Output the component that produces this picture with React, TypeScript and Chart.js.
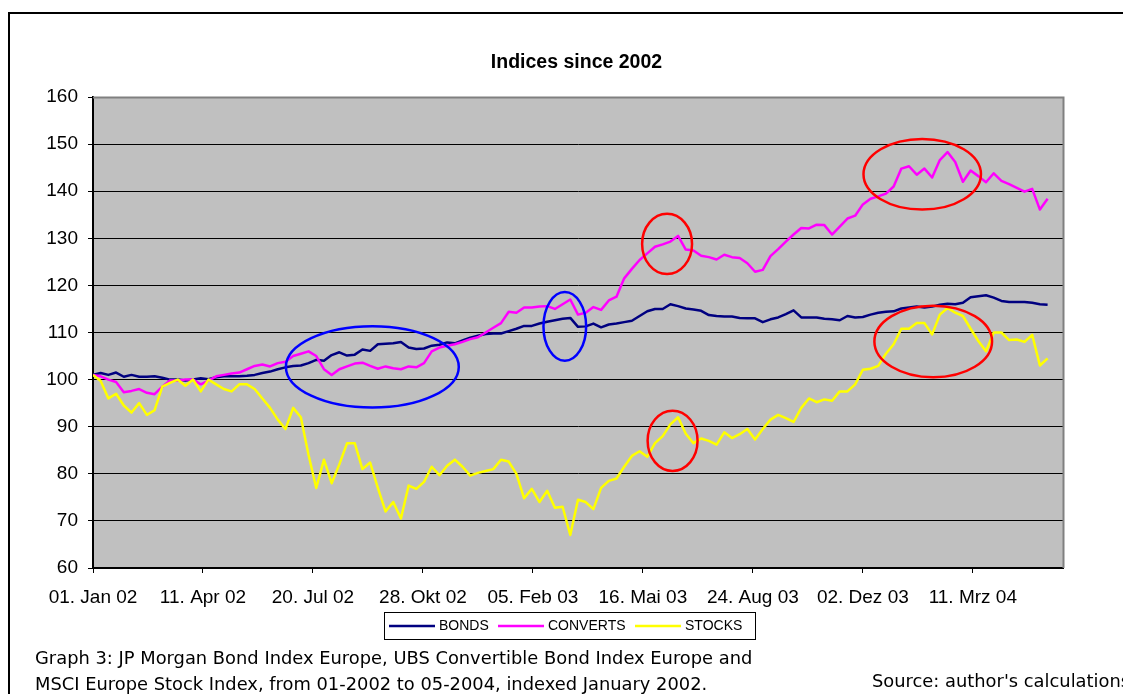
import React, { useEffect, useRef } from "react";
import { Chart, registerables } from "chart.js";

Chart.register(...registerables);

// ---------- data ----------
const STEP_DAYS = 7; // weekly observations, day 0 = 01. Jan 02
const X_MAX_DAYS = 882;
const TICK_DAYS = [0, 100, 200, 300, 400, 500, 600, 700, 800];
const TICK_LABELS = [
  "01. Jan 02",
  "11. Apr 02",
  "20. Jul 02",
  "28. Okt 02",
  "05. Feb 03",
  "16. Mai 03",
  "24. Aug 03",
  "02. Dez 03",
  "11. Mrz 04",
];
const Y_MIN = 60;
const Y_MAX = 160;
const Y_STEP = 10;

const BONDS = [
  101, 101.4, 101, 101.5, 100.6, 101, 100.6, 100.6, 100.7, 100.4,
  100, 100, 99.8, 100, 100.3, 100.1, 100.5, 100.7, 100.7, 100.7,
  100.8, 101, 101.4, 101.7, 102.2, 102.6, 102.9, 103, 103.5, 104.2,
  104, 105.2, 105.8, 105.1, 105.3, 106.4, 106.1, 107.5, 107.6, 107.7,
  108, 106.8, 106.5, 106.6, 107.2, 107.4, 107.9, 107.7, 108.3, 108.9,
  109.3, 109.7, 109.8, 109.8, 110.3, 110.8, 111.4, 111.4, 111.9, 112.3,
  112.6, 112.9, 113.1, 111.2, 111.3, 111.9, 111.1, 111.7, 111.9, 112.2,
  112.5, 113.5, 114.5, 115, 115, 116, 115.6, 115.1, 114.9, 114.6,
  113.7, 113.5, 113.4, 113.4, 113.1, 113, 113, 112.2, 112.8, 113.2,
  113.9, 114.7, 113.2, 113.2, 113.2, 112.9, 112.8, 112.6, 113.5, 113.2,
  113.3, 113.8, 114.2, 114.4, 114.5, 115.1, 115.3, 115.5, 115.3, 115.5,
  115.9, 116.1, 116, 116.3, 117.5, 117.7, 117.9, 117.4, 116.7, 116.5,
  116.5, 116.5, 116.3, 116, 115.9,
];

const CONVERTS = [
  101, 100.7, 100, 99.5, 97.3, 97.6, 98, 97.2, 96.9, 98.5,
  99.8, 99.8, 100, 100, 99, 99.8, 100.7, 101, 101.3, 101.5,
  102.2, 102.9, 103.2, 102.8, 103.5, 103.8, 105, 105.5, 106, 105,
  102.2, 101, 102.2, 102.8, 103.4, 103.6, 102.9, 102.3, 102.8, 102.4,
  102.2, 102.8, 102.6, 103.5, 106, 106.8, 107.2, 107.5, 108, 108.6,
  109, 110, 111, 112, 114.4, 114.2, 115.3, 115.3, 115.5, 115.6,
  115, 116, 117, 113.8, 114.2, 115.4, 114.8, 116.8, 117.6, 121.5,
  123.5, 125.4, 126.8, 128.2, 128.7, 129.3, 130.5, 127.6, 127.4, 126.3,
  126, 125.5, 126.5, 126, 125.8, 124.7, 122.9, 123.3, 126.2, 127.7,
  129.3, 130.8, 132.2, 132.1, 132.9, 132.8, 130.8, 132.5, 134.2, 134.8,
  137.2, 138.4, 138.9, 139.5, 141, 144.8, 145.3, 143.5, 144.8, 142.9,
  146.6, 148.3, 146.2, 142, 144.4, 143.2, 141.9, 143.8, 142.2, 141.5,
  140.7, 139.9, 140.5, 136.1, 138.4,
];

const STOCKS = [
  101, 99.7, 96, 97, 94.5, 93, 95, 92.5, 93.5, 98.5,
  99.3, 100, 98.7, 100, 97.5, 100, 99, 98, 97.5, 99,
  99, 98, 96, 94, 91.5, 89.5, 94, 92, 84, 77,
  83, 78, 82, 86.5, 86.5, 81, 82.4, 77, 72, 74,
  70.5, 77.5, 76.8, 78.3, 81.5, 79.7, 81.7, 83, 81.5, 79.6,
  80.2, 80.6, 81, 83, 82.6, 80, 74.8, 76.8, 74, 76.4,
  72.8, 73, 67, 74.5, 74, 72.5, 77, 78.5, 79, 81.5,
  83.8, 84.8, 83.6, 86.5, 88, 90.5, 92, 88.5, 86.5, 87.5,
  87, 86.2, 88.8, 87.6, 88.4, 89.5, 87.3, 89.5, 91.5, 92.5,
  91.8, 91, 94, 96, 95.2, 95.8, 95.5, 97.5, 97.5, 99,
  102.1, 102.3, 102.9, 105.5, 107.5, 110.8, 110.8, 112, 112, 109.6,
  113.8, 115.2, 114.2, 113.5, 110.8, 108.2, 106, 110, 110, 108.4,
  108.5, 108, 109.5, 103, 104.5,
];

const SERIES_NAMES = ["BONDS", "CONVERTS", "STOCKS"];
const SERIES_VALUES = [BONDS, CONVERTS, STOCKS];
const SERIES_COLORS = ["#000080", "#FF00FF", "#FFFF00"];

// highlight ellipses, in data units (day, index value)
const HIGHLIGHT_DAYS = [254, 429, 522, 527, 754, 764];
const HIGHLIGHT_VALUES = [102.7, 111.3, 128.8, 87.0, 143.6, 108.1];
const HIGHLIGHT_RADIUS_DAYS = [78.6, 19.4, 22.7, 22.7, 53.4, 53.5];
const HIGHLIGHT_RADIUS_VALUES = [8.64, 7.3, 6.4, 6.4, 7.5, 7.6];
const HIGHLIGHT_COLORS = ["#0000FF", "#0000FF", "#FF0000", "#FF0000", "#FF0000", "#FF0000"];

const TITLE = "Indices since 2002";
const CAPTION_LINES = [
  "Graph 3: JP Morgan Bond Index Europe, UBS Convertible Bond Index Europe and",
  "MSCI Europe Stock Index, from 01-2002 to 05-2004, indexed January 2002.",
];
const SOURCE = "Source: author's calculations";

const AXIS_FONT = '"Liberation Sans", Arial, Helvetica, sans-serif';
const CAPTION_FONT = '"DejaVu Sans", Verdana, sans-serif';

const decorPlugin = {
  id: "decor",
  beforeDraw(chart: any) {
    const { ctx, chartArea: a, width, height } = chart;
    ctx.save();
    ctx.fillStyle = "#FFFFFF";
    ctx.fillRect(0, 0, width, height);
    ctx.fillStyle = "#C0C0C0";
    ctx.fillRect(a.left, a.top, a.right - a.left, a.bottom - a.top);
    ctx.restore();
  },
  afterDatasetsDraw(chart: any) {
    const { ctx } = chart;
    const xs = chart.scales.x;
    const ys = chart.scales.y;
    ctx.save();
    ctx.lineWidth = 2.5;
    HIGHLIGHT_DAYS.forEach((d, i) => {
      const cx = xs.getPixelForValue(d);
      const cy = ys.getPixelForValue(HIGHLIGHT_VALUES[i]);
      const rx = Math.abs(xs.getPixelForValue(d + HIGHLIGHT_RADIUS_DAYS[i]) - cx);
      const ry = Math.abs(ys.getPixelForValue(HIGHLIGHT_VALUES[i] + HIGHLIGHT_RADIUS_VALUES[i]) - cy);
      ctx.strokeStyle = HIGHLIGHT_COLORS[i];
      ctx.beginPath();
      ctx.ellipse(cx, cy, rx, ry, 0, 0, Math.PI * 2);
      ctx.stroke();
    });
    ctx.restore();
  },
  afterDraw(chart: any) {
    const { ctx, chartArea: a, width, height } = chart;
    ctx.save();

    // plot area top/right border (grey)
    ctx.strokeStyle = "#808080";
    ctx.lineWidth = 2;
    ctx.beginPath();
    ctx.moveTo(a.left, a.top + 0.5);
    ctx.lineTo(a.right + 0.5, a.top + 0.5);
    ctx.lineTo(a.right + 0.5, a.bottom);
    ctx.stroke();

    // outer frame
    ctx.strokeStyle = "#000000";
    ctx.lineWidth = 2;
    ctx.beginPath();
    ctx.moveTo(9, height);
    ctx.lineTo(9, 13);
    ctx.lineTo(width, 13);
    ctx.stroke();

    // title
    ctx.fillStyle = "#000000";
    ctx.font = `bold 19.5px ${AXIS_FONT}`;
    ctx.textAlign = "center";
    ctx.textBaseline = "middle";
    ctx.fillText(TITLE, (a.left + a.right) / 2 - 1.5, 63);

    // legend
    const lgTop = 612.5;
    const lgLeft = 384.5;
    const lgW = 371;
    const lgH = 27;
    ctx.lineWidth = 1;
    ctx.strokeStyle = "#000000";
    ctx.strokeRect(lgLeft, lgTop, lgW, lgH);
    const lineStarts = [389, 498, 635];
    const lineLen = 46;
    const cyL = lgTop + lgH / 2;
    ctx.font = `14px ${AXIS_FONT}`;
    ctx.textAlign = "left";
    ctx.textBaseline = "middle";
    SERIES_NAMES.forEach((name, i) => {
      ctx.strokeStyle = SERIES_COLORS[i];
      ctx.lineWidth = 2.5;
      ctx.beginPath();
      ctx.moveTo(lineStarts[i], cyL);
      ctx.lineTo(lineStarts[i] + lineLen, cyL);
      ctx.stroke();
      ctx.fillStyle = "#000000";
      ctx.fillText(name, lineStarts[i] + lineLen + 4, cyL + 0.5);
    });

    // caption, fitted to the measured width of the first line
    ctx.font = `18px ${CAPTION_FONT}`;
    const w18 = ctx.measureText(CAPTION_LINES[0]).width;
    const size = (18 * 718) / w18;
    ctx.font = `${size.toFixed(2)}px ${CAPTION_FONT}`;
    ctx.textBaseline = "alphabetic";
    ctx.textAlign = "left";
    ctx.fillStyle = "#000000";
    ctx.fillText(CAPTION_LINES[0], 35, 664);
    ctx.fillText(CAPTION_LINES[1], 35, 690);
    ctx.fillText(SOURCE, 872, 687);

    ctx.restore();
  },
};

export default function App() {
  const canvasRef = useRef<HTMLCanvasElement | null>(null);

  useEffect(() => {
    const canvas = canvasRef.current;
    if (!canvas) return;
    const datasets = SERIES_NAMES.map((name, i) => ({
      label: name,
      data: SERIES_VALUES[i].map((v, k) => ({ x: k * STEP_DAYS, y: v })),
      borderColor: SERIES_COLORS[i],
      backgroundColor: SERIES_COLORS[i],
      borderWidth: 2.5,
      pointRadius: 0,
      tension: 0,
      fill: false,
      borderJoinStyle: "round" as const,
      order: SERIES_NAMES.length - i,
    }));

    const chart = new Chart(canvas, {
      type: "line",
      data: { datasets },
      options: {
        animation: false,
        responsive: false,
        devicePixelRatio: 1,
        layout: { padding: { left: 0, top: 97, right: 60, bottom: 0 } },
        plugins: {
          legend: { display: false },
          title: { display: false },
          tooltip: { enabled: false },
        },
        scales: {
          x: {
            type: "linear",
            min: 0,
            max: X_MAX_DAYS,
            afterBuildTicks: (scale: any) => {
              scale.ticks = TICK_DAYS.map((v) => ({ value: v }));
            },
            afterFit: (scale: any) => {
              scale.height = 126;
            },
            grid: {
              drawOnChartArea: false,
              drawTicks: true,
              tickLength: 5,
              color: "#000000",
              tickColor: "#000000",
            },
            border: { display: true, color: "#000000", width: 2 },
            ticks: {
              autoSkip: false,
              maxRotation: 0,
              minRotation: 0,
              padding: 13,
              color: "#000000",
              font: { family: AXIS_FONT, size: 19 },
              callback: (value: any) => {
                const idx = TICK_DAYS.indexOf(Number(value));
                return idx >= 0 ? TICK_LABELS[idx] : "";
              },
            },
          },
          y: {
            min: Y_MIN,
            max: Y_MAX,
            afterFit: (scale: any) => {
              scale.width = 93;
            },
            grid: {
              drawTicks: true,
              tickLength: 5,
              color: (c: any) => (c.tick && c.tick.value === Y_MAX ? "#808080" : "#000000"),
              tickColor: "#000000",
              lineWidth: 1,
            },
            border: { display: true, color: "#000000", width: 2 },
            ticks: {
              stepSize: Y_STEP,
              padding: 10,
              color: "#000000",
              font: { family: AXIS_FONT, size: 19 },
            },
          },
        },
      },
      plugins: [decorPlugin],
    });

    return () => {
      chart.destroy();
    };
  }, []);

  return (
    <div
      style={{
        position: "fixed",
        left: 0,
        top: 0,
        width: 1123,
        height: 694,
        background: "#ffffff",
        overflow: "hidden",
      }}
    >
      <canvas
        ref={canvasRef}
        width={1123}
        height={694}
        style={{ display: "block", width: 1123, height: 694 }}
      />
    </div>
  );
}
